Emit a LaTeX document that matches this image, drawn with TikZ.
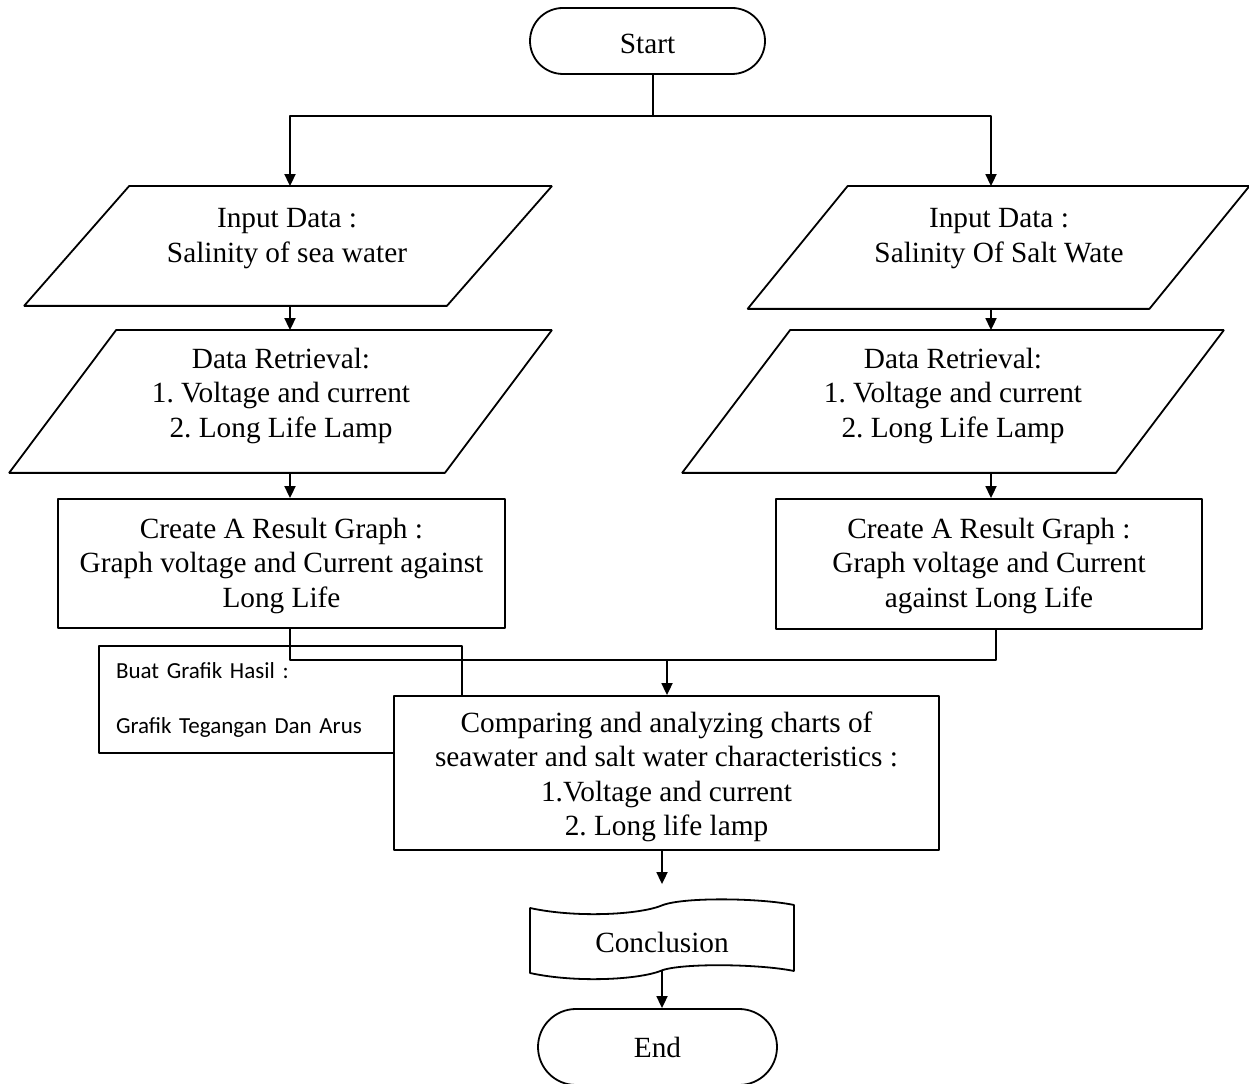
\documentclass[tikz,border=0pt]{standalone}
\usepackage{fontspec}
\setmainfont{Liberation Serif}
\newfontfamily\notefont{Carlito}
\usetikzlibrary{arrows.meta}
\frenchspacing
\begin{document}
\begin{tikzpicture}[>={Triangle[length=12bp,width=11bp]},line join=bevel,
  every node/.style={font=\fontsize{29.3bp}{34.5bp}\selectfont},
  term/.style={draw,rectangle,rounded corners=#1,inner sep=0pt},
  io/.style={rectangle,inner sep=0pt},
  proc/.style={draw,fill=white,rectangle,inner sep=0pt},
  txt/.style={align=center,inner sep=0pt},
  note/.style={draw,fill=white,rectangle,inner ysep=0pt,inner xsep=17bp,align=left,
    font=\notefont\fontsize{23bp}{55bp}\selectfont},
]
  \pgfsetlinewidth{1.8bp}
  \path[use as bounding box,fill=white] (0bp,0bp) rectangle (1249bp,1084bp);
%%
\pgfsetcolor{black}
  % Node: start
  \node[term=33bp,minimum width=235bp,minimum height=66bp] (start) at (647.5bp,1043bp) {};
  \node[txt] (starttxt) at ([yshift=-3bp]start.center) {Start};
  % Node: inL
\begin{scope}
  \node[io,minimum width=421bp,minimum height=118bp] (inL) at (288bp,838bp) {};
  \draw ([xshift=52.5bp]inL.north west) -- ([xshift=52.5bp]inL.north east) -- ([xshift=-52.5bp]inL.south east) -- ([xshift=-52.5bp]inL.south west) -- cycle;
  \node[txt] (inLtxt) at (287bp,845.5bp) {Input Data :\\Salinity of sea water};
\end{scope}
  % Node: inR
\begin{scope}
  \node[io,minimum width=400bp,minimum height=121bp] (inR) at (998.5bp,836.5bp) {};
  \draw ([xshift=50bp]inR.north west) -- ([xshift=50bp]inR.north east) -- ([xshift=-50bp]inR.south east) -- ([xshift=-50bp]inR.south west) -- cycle;
  \node[txt] (inRtxt) at (999bp,845.5bp) {Input Data :\\Salinity Of Salt Wate};
\end{scope}
  % Node: drL
\begin{scope}
  \node[io,minimum width=434bp,minimum height=141bp] (drL) at (280.5bp,682.5bp) {};
  \draw ([xshift=53.5bp]drL.north west) -- ([xshift=53.5bp]drL.north east) -- ([xshift=-53.5bp]drL.south east) -- ([xshift=-53.5bp]drL.south west) -- cycle;
  \node[txt] (drLtxt) at (281bp,688bp) {Data Retrieval:\\1. Voltage and current\\2. Long Life Lamp};
\end{scope}
  % Node: drR
\begin{scope}
  \node[io,minimum width=432bp,minimum height=141bp] (drR) at (953bp,682.5bp) {};
  \draw ([xshift=54bp]drR.north west) -- ([xshift=54bp]drR.north east) -- ([xshift=-54bp]drR.south east) -- ([xshift=-54bp]drR.south west) -- cycle;
  \node[txt] (drRtxt) at (953bp,688bp) {Data Retrieval:\\1. Voltage and current\\2. Long Life Lamp};
\end{scope}
  % Node: rL
  \node[proc,minimum width=447bp,minimum height=129bp] (rL) at (281.5bp,520.5bp) {};
  \node[txt] (rLtxt) at ([yshift=-2.5bp]rL.center) {Create A Result Graph :\\Graph voltage and Current against\\Long Life};
  % Node: rR
  \node[proc,minimum width=426bp,minimum height=130bp] (rR) at (989bp,520bp) {};
  \node[txt] (rRtxt) at ([yshift=-2bp]rR.center) {Create A Result Graph :\\Graph voltage and Current\\against Long Life};
  % Node: buat
  \node[note,minimum width=363bp,minimum height=107bp,text width=329bp] (buat) at (280.5bp,384.5bp) {Buat Grafik Hasil :\\Grafik Tegangan Dan Arus};
  % Node: comp
  \node[proc,minimum width=545bp,minimum height=154bp] (comp) at (666.5bp,311bp) {};
  \node[txt] (comptxt) at ([yshift=-4bp]comp.center) {Comparing and analyzing charts of\\seawater and salt water characteristics :\\1.Voltage and current\\2. Long life lamp};
  % Node: conc
\begin{scope}
  \draw[fill=white] (530bp,176bp) .. controls (575bp,166bp) and (640bp,169bp) .. (663bp,179bp)
    .. controls (685bp,187bp) and (760bp,186bp) .. (794bp,179bp) -- (794bp,113bp)
    .. controls (760bp,120bp) and (685bp,121bp) .. (663bp,114bp)
    .. controls (640bp,104bp) and (575bp,101bp) .. (530bp,111bp) -- cycle;
  \node[io,minimum width=264bp,minimum height=64bp] (conc) at (662bp,147bp) {};
  \node[txt] (conctxt) at ([yshift=-5bp]conc.center) {Conclusion};
\end{scope}
  % Node: finish
  \node[term=38bp,minimum width=239bp,minimum height=76bp] (finish) at (657.5bp,37bp) {End};
%
  \coordinate (fork) at (653bp,968bp);
  \coordinate (colL) at (290bp,0bp);
  \coordinate (colR) at (991bp,0bp);
  \coordinate (joinL) at (290bp,424bp);
  \coordinate (joinR) at (996bp,424bp);
  \coordinate (join) at (667bp,424bp);
  % Edge: start -> inL, inR
  \draw (start.south -| fork) -- (fork);
  \draw[->] (fork) -| (colL |- inL.north);
  \draw[->] (fork) -| (colR |- inR.north);
  % Edge: inL -> drL -> rL
  \draw[->] (colL |- inL.south) -- (colL |- drL.north);
  \draw[->] (colL |- drL.south) -- (colL |- rL.north);
  % Edge: inR -> drR -> rR
  \draw[->] (colR |- inR.south) -- (colR |- drR.north);
  \draw[->] (colR |- drR.south) -- (colR |- rR.north);
  % Edge: rL, rR -> comp
  \draw (colL |- rL.south) -- (joinL) -- (joinR) -- (joinR |- rR.south);
  \draw[->] (join) -- (join |- comp.north);
  % Edge: comp -> conc
  \draw[->,shorten >=20bp] (conc.north |- comp.south) -- (conc.north);
  % Edge: conc -> finish
  \draw[->] (conc.south) -- (conc.south |- finish.north);
%
\end{tikzpicture}
\end{document}
